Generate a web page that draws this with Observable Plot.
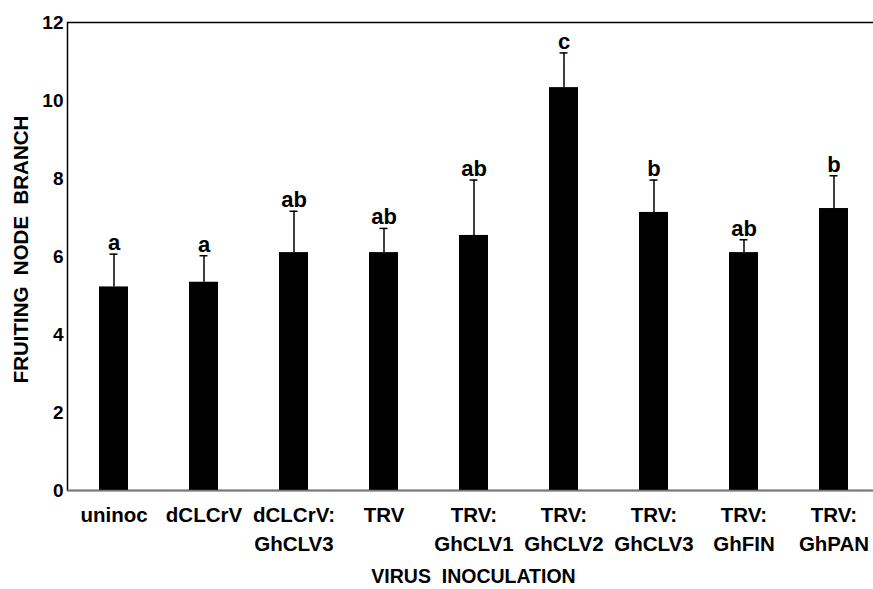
<!DOCTYPE html>
<html>
<head>
<meta charset="utf-8">
<script src="https://cdn.jsdelivr.net/npm/d3@7"></script>
<script src="https://cdn.jsdelivr.net/npm/@observablehq/plot@0.6"></script>
<style>
  html, body { margin: 0; padding: 0; background: #fff; }
  svg { display: block; }
</style>
</head>
<body>
<div id="chart"></div>
<script>
const categories = ["uninoc", "dCLCrV", "dCLCrV:\nGhCLV3", "TRV", "TRV:\nGhCLV1", "TRV:\nGhCLV2", "TRV:\nGhCLV3", "TRV:\nGhFIN", "TRV:\nGhPAN"];
const means = [5.22, 5.34, 6.10, 6.10, 6.54, 10.33, 7.13, 6.10, 7.23];
const errTops = [6.06, 6.02, 7.16, 6.72, 7.96, 11.22, 7.96, 6.43, 8.07];
const letters = ["a", "a", "ab", "ab", "ab", "c", "b", "ab", "b"];
const yTicks = [0, 2, 4, 6, 8, 10, 12];
const yTitle = "FRUITING  NODE  BRANCH";
const xTitle = "VIRUS  INOCULATION";

const data = categories.map((c, i) => ({cat: c, mean: means[i], err: errTops[i], letter: letters[i]}));
const font = "Liberation Sans, Arial, sans-serif";

const chart = Plot.plot({
  width: 873,
  height: 589,
  marginLeft: 67,
  marginRight: -6,
  marginTop: 22,
  marginBottom: 99,
  style: {fontFamily: font, background: "#fff"},
  x: {domain: categories, paddingInner: 0.68, paddingOuter: 0.34, axis: null},
  y: {domain: [0, 12], axis: null},
  marks: [
    Plot.barY(data, {x: "cat", y: "mean", fill: "#000"}),
    Plot.ruleX(data, {x: "cat", y1: "mean", y2: "err", stroke: "#000", strokeWidth: 1.5}),
    Plot.tickY(data, {x: "cat", y: "err", stroke: "#000", strokeWidth: 1.5, insetLeft: 10.5, insetRight: 10.5}),
    Plot.text(data, {x: "cat", y: "err", text: "letter", dy: -4, lineAnchor: "bottom", fontSize: 22, fontWeight: "bold", fill: "#000"}),
    Plot.frame({stroke: "#000", strokeWidth: 1.5}),
    Plot.ruleY([0], {stroke: "#777", strokeWidth: 1.5}),
    Plot.text(yTicks, {y: d => d, text: d => String(d), frameAnchor: "left", dx: -4, textAnchor: "end", fontSize: 19, fontWeight: "bold", fill: "#000"}),
    Plot.text(categories, {x: d => d, text: d => d, frameAnchor: "bottom", dy: 12, lineAnchor: "top", lineHeight: 1.37, fontSize: 20.5, fontWeight: "bold", fill: "#000"}),
    Plot.text([yTitle], {text: d => d, frameAnchor: "left", textAnchor: "middle", lineAnchor: "middle", dx: -46, dy: -7, rotate: -90, fontSize: 20.5, fontWeight: "bold", fill: "#000"}),
    Plot.text([xTitle], {text: d => d, frameAnchor: "bottom", lineAnchor: "middle", dy: 86, fontSize: 19.5, fontWeight: "bold", fill: "#000"})
  ]
});
document.getElementById("chart").appendChild(chart);
</script>
</body>
</html>
